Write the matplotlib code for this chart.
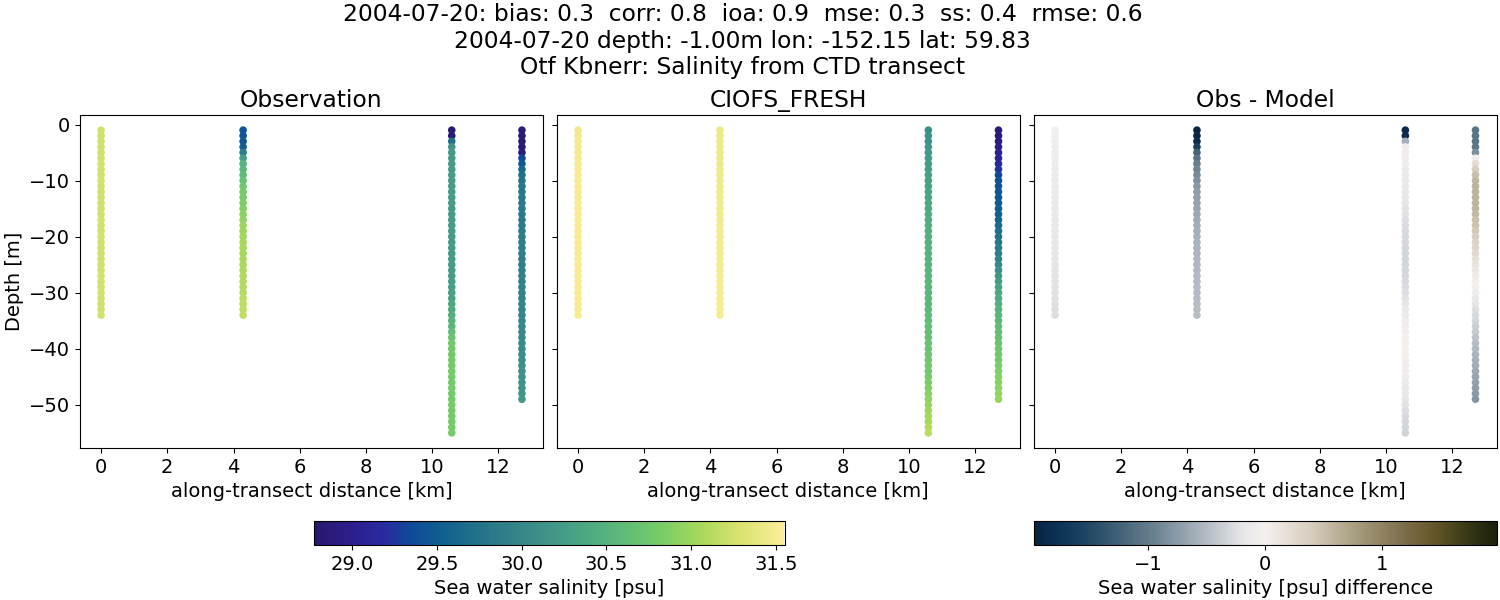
import numpy as np
import matplotlib
matplotlib.use("Agg")
import matplotlib.pyplot as plt
from matplotlib.colors import LinearSegmentedColormap

# along-transect distance of each cast [km]
distance = [0.0, 4.29, 10.59, 12.71]

# number of 1 m depth bins in each cast (starts at -1 m)
depth_1 = [-d for d in range(1, 35)]
depth_2 = [-d for d in range(1, 35)]
depth_3 = [-d for d in range(1, 56)]
depth_4 = [-d for d in range(1, 50)]

# observed salinity
obs_1 = [31.24, 31.24, 31.24, 31.25, 31.25, 31.25, 31.25, 31.25, 31.25, 31.25, 31.25, 31.25,
         31.25, 31.25, 31.25, 31.25, 31.25, 31.25, 31.25, 31.25, 31.25, 31.25, 31.25, 31.25,
         31.25, 31.25, 31.25, 31.25, 31.25, 31.25, 31.25, 31.25, 31.25, 31.25]
obs_2 = [29.42, 29.42, 29.45, 29.55, 29.85, 30.25, 30.5, 30.55, 30.6, 30.68, 30.74, 30.8,
         30.82, 30.85, 30.87, 30.9, 30.95, 31.0, 31.0, 31.02, 31.04, 31.05, 31.05, 31.06,
         31.07, 31.08, 31.1, 31.1, 31.1, 31.12, 31.13, 31.14, 31.15, 31.16]
obs_3 = [28.85, 28.85, 29.75, 30.18, 30.22, 30.24, 30.25, 30.25, 30.25, 30.25, 30.25, 30.25,
         30.25, 30.25, 30.25, 30.25, 30.25, 30.25, 30.25, 30.25, 30.25, 30.25, 30.25, 30.25,
         30.25, 30.26, 30.26, 30.27, 30.28, 30.3, 30.33, 30.38, 30.42, 30.46, 30.5, 30.55,
         30.62, 30.7, 30.76, 30.78, 30.78, 30.8, 30.8, 30.8, 30.8, 30.8, 30.8, 30.8,
         30.8, 30.8, 30.8, 30.8, 30.8, 30.8, 30.8]
obs_4 = [28.85, 28.85, 28.85, 28.85, 28.88, 29.35, 29.5, 29.65, 29.72, 29.78, 29.8, 29.8,
         29.82, 29.82, 29.84, 29.84, 29.85, 29.85, 29.86, 29.87, 29.88, 29.88, 29.9, 29.9,
         29.9, 29.92, 29.92, 29.93, 29.95, 29.95, 29.96, 29.97, 29.98, 29.99, 30.0, 30.0,
         30.02, 30.03, 30.05, 30.06, 30.07, 30.08, 30.1, 30.12, 30.13, 30.15, 30.17, 30.18, 30.2]

# model salinity
model_1 = [31.46, 31.46, 31.47, 31.48, 31.48, 31.49, 31.49, 31.5, 31.5, 31.5, 31.5, 31.5,
           31.5, 31.5, 31.5, 31.5, 31.5, 31.5, 31.5, 31.5, 31.5, 31.5, 31.5, 31.5,
           31.5, 31.5, 31.5, 31.5, 31.5, 31.5, 31.5, 31.5, 31.5, 31.5]
model_2 = [31.42, 31.42, 31.42, 31.43, 31.43, 31.44, 31.44, 31.45, 31.45, 31.45, 31.46, 31.46,
           31.46, 31.47, 31.47, 31.47, 31.48, 31.48, 31.48, 31.48, 31.48, 31.48, 31.49, 31.49,
           31.49, 31.49, 31.5, 31.5, 31.5, 31.5, 31.5, 31.5, 31.5, 31.5]
model_3 = [30.08, 30.12, 30.15, 30.18, 30.2, 30.22, 30.24, 30.26, 30.28, 30.3, 30.32, 30.34,
           30.36, 30.38, 30.4, 30.42, 30.43, 30.45, 30.46, 30.47, 30.48, 30.5, 30.5, 30.52,
           30.52, 30.53, 30.54, 30.55, 30.55, 30.55, 30.56, 30.57, 30.58, 30.6, 30.62, 30.63,
           30.65, 30.67, 30.69, 30.7, 30.72, 30.74, 30.76, 30.78, 30.8, 30.83, 30.86, 30.9,
           30.93, 30.97, 31.0, 31.03, 31.06, 31.1, 31.13]
model_4 = [28.85, 28.87, 28.9, 28.98, 29.05, 29.08, 29.14, 29.22, 29.32, 29.4, 29.42, 29.45,
           29.47, 29.5, 29.52, 29.55, 29.6, 29.65, 29.7, 29.75, 29.8, 29.85, 29.9, 29.95,
           30.02, 30.1, 30.18, 30.26, 30.32, 30.38, 30.42, 30.46, 30.5, 30.54, 30.58, 30.62,
           30.65, 30.68, 30.7, 30.73, 30.76, 30.79, 30.82, 30.85, 30.88, 30.9, 30.93, 30.96, 30.98]

# obs minus model
diff_1 = [-0.03, -0.04, -0.05, -0.06, -0.07, -0.08, -0.09, -0.1, -0.1, -0.11, -0.11, -0.12,
          -0.13, -0.13, -0.14, -0.14, -0.15, -0.15, -0.16, -0.17, -0.17, -0.18, -0.19, -0.19,
          -0.2, -0.21, -0.21, -0.22, -0.22, -0.23, -0.24, -0.24, -0.25, -0.25]
diff_2 = [-1.95, -1.93, -1.88, -1.55, -1.25, -1.08, -0.98, -0.92, -0.87, -0.82, -0.77, -0.74,
          -0.71, -0.69, -0.67, -0.65, -0.63, -0.61, -0.6, -0.58, -0.57, -0.56, -0.55, -0.54,
          -0.54, -0.53, -0.52, -0.52, -0.51, -0.5, -0.5, -0.49, -0.49, -0.48]
diff_3 = [-1.9, -1.85, -0.6, -0.07, -0.07, -0.08, -0.09, -0.1, -0.12, -0.14, -0.15, -0.17,
          -0.18, -0.2, -0.22, -0.23, -0.25, -0.27, -0.28, -0.29, -0.3, -0.31, -0.31, -0.32,
          -0.32, -0.31, -0.3, -0.29, -0.27, -0.25, -0.22, -0.19, -0.15, -0.12, -0.09, -0.07,
          -0.05, -0.03, -0.02, -0.02, -0.03, -0.04, -0.05, -0.07, -0.09, -0.11, -0.14, -0.17,
          -0.2, -0.23, -0.26, -0.28, -0.3, -0.32, -0.34]
diff_4 = [-1.08, -1.08, -1.07, -1.05, -0.85, -0.05, 0.22, 0.38, 0.5, 0.56, 0.6, 0.6,
          0.6, 0.6, 0.58, 0.55, 0.5, 0.47, 0.43, 0.38, 0.34, 0.3, 0.25, 0.2,
          0.15, 0.1, 0.06, 0.03, -0.02, -0.08, -0.14, -0.2, -0.25, -0.28, -0.32, -0.36,
          -0.4, -0.44, -0.48, -0.52, -0.55, -0.58, -0.61, -0.64, -0.68, -0.71, -0.74, -0.77, -0.8]

casts_x = distance
depths = [depth_1, depth_2, depth_3, depth_4]
obs = [obs_1, obs_2, obs_3, obs_4]
model = [model_1, model_2, model_3, model_4]
diff = [diff_1, diff_2, diff_3, diff_4]

# cmocean isn't available so rebuild haline and diff by hand
haline = LinearSegmentedColormap.from_list("haline", [
    (0.00, "#2a186c"), (0.08, "#2c1e8e"), (0.15, "#2a2ba0"), (0.20, "#10489a"),
    (0.27, "#0f5f90"), (0.36, "#25758a"), (0.45, "#38898a"), (0.55, "#47a186"),
    (0.65, "#5cb97a"), (0.74, "#78cd68"), (0.82, "#a6d85a"), (0.90, "#d6e26e"),
    (1.00, "#fdee99")], N=256)
diff_cmap = LinearSegmentedColormap.from_list("diff", [
    (0.00, "#08243f"), (0.05, "#0d3255"), (0.10, "#19415f"), (0.25, "#647d8c"),
    (0.35, "#a5afb9"), (0.45, "#e6e6e8"), (0.50, "#f5f0ed"), (0.60, "#d7cdbe"),
    (0.70, "#a59b7d"), (0.80, "#7d6e4b"), (0.87, "#645528"), (0.93, "#3c3c19"),
    (1.00, "#1c200c")], N=256)

sal_min, sal_max = 28.775, 31.55
diff_lim = 1.98

plt.rcParams["font.size"] = 14

fig = plt.figure(figsize=(15, 6), dpi=100)


def add_ax(left, top, right, bottom, **kw):
    return fig.add_axes([left / 1500, 1 - bottom / 600, (right - left) / 1500, (bottom - top) / 600], **kw)


ax1 = add_ax(80, 115, 543, 448)
ax2 = add_ax(557, 115, 1019.5, 448, sharex=ax1, sharey=ax1)
ax3 = add_ax(1034, 115, 1496.5, 448, sharex=ax1, sharey=ax1)

for x, z, o, m, d in zip(casts_x, depths, obs, model, diff):
    xs = [x] * len(z)
    sc1 = ax1.scatter(xs, z, c=o, cmap=haline, vmin=sal_min, vmax=sal_max, s=20, linewidths=1)
    ax2.scatter(xs, z, c=m, cmap=haline, vmin=sal_min, vmax=sal_max, s=20, linewidths=1)
    sc3 = ax3.scatter(xs, z, c=d, cmap=diff_cmap, vmin=-diff_lim, vmax=diff_lim, s=20, linewidths=1)

ax1.set_title("Observation", fontsize=16.8, pad=6)
ax2.set_title("CIOFS_FRESH", fontsize=16.8, pad=6)
ax3.set_title("Obs - Model", fontsize=16.8, pad=6)
ax1.set_ylabel("Depth [m]")
for ax in [ax1, ax2, ax3]:
    ax.set_xlabel("along-transect distance [km]")
ax2.tick_params(labelleft=False)
ax3.tick_params(labelleft=False)

cax1 = add_ax(314, 521, 784.5, 545)
cb1 = fig.colorbar(sc1, cax=cax1, orientation="horizontal")
cb1.set_label("Sea water salinity [psu]")
cb1.set_ticks([29.0, 29.5, 30.0, 30.5, 31.0, 31.5])

cax2 = add_ax(1034, 521, 1496.5, 545)
cb2 = fig.colorbar(sc3, cax=cax2, orientation="horizontal")
cb2.set_label("Sea water salinity [psu] difference")
cb2.set_ticks([-1, 0, 1])

fig.suptitle("2004-07-20: bias: 0.3  corr: 0.8  ioa: 0.9  mse: 0.3  ss: 0.4  rmse: 0.6\n"
             "2004-07-20 depth: -1.00m lon: -152.15 lat: 59.83\n"
             "Otf Kbnerr: Salinity from CTD transect",
             fontsize=16.8, x=0.495, y=0.995, va="top")

fig.savefig("out.png", dpi=100)
